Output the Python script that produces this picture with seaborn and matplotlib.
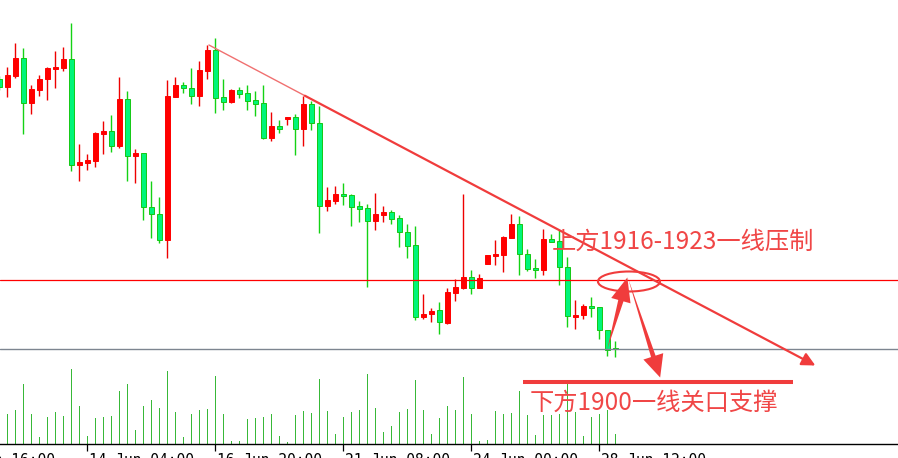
import numpy as np
import pandas as pd
import seaborn as sns
import matplotlib.pyplot as plt
from matplotlib.patches import Ellipse, FancyArrowPatch, ArrowStyle

# gold 4H candles, oldest first (red = up, green = down)
opens = [1960.1, 1958.5, 1960.7, 1964.2, 1955.3, 1957.9, 1960.1, 1962.0, 1962.3, 1963.9,
         1942.9, 1943.3, 1943.7, 1949.1, 1949.6, 1946.7, 1956.0, 1944.7, 1945.2, 1934.5,
         1933.1, 1927.9, 1956.5, 1958.8, 1958.3, 1956.7, 1961.7, 1965.8, 1956.4, 1955.5,
         1957.8, 1957.2, 1955.8, 1955.2, 1948.3, 1950.6, 1952.1, 1952.4, 1950.1, 1955.0,
         1951.3, 1934.7, 1935.7, 1937.0, 1936.8, 1934.6, 1934.2, 1931.7, 1932.9, 1933.5,
         1932.2, 1929.4, 1926.7, 1912.5, 1913.1, 1913.8, 1911.3, 1917.3, 1918.2, 1920.4,
         1918.3, 1923.1, 1924.7, 1924.9, 1928.3, 1931.1, 1925.1, 1922.2, 1921.9, 1927.9,
         1927.5, 1922.4, 1912.5, 1912.8, 1914.5, 1914.4, 1909.9, 1906.1]
highs = [1960.6, 1962.4, 1967.2, 1966.2, 1958.8, 1960.8, 1962.5, 1965.6, 1966.4, 1971.2,
         1947.0, 1945.0, 1949.4, 1951.6, 1952.8, 1960.4, 1957.7, 1946.0, 1945.2, 1939.6,
         1936.4, 1959.8, 1960.4, 1959.5, 1962.2, 1963.6, 1966.8, 1968.2, 1960.0, 1958.1,
         1958.4, 1958.8, 1957.6, 1958.8, 1953.4, 1951.8, 1952.4, 1953.1, 1956.7, 1955.7,
         1954.6, 1938.4, 1938.6, 1939.3, 1937.0, 1935.6, 1935.0, 1937.2, 1934.7, 1933.9,
         1932.8, 1931.1, 1930.6, 1917.0, 1914.2, 1915.4, 1918.2, 1920.1, 1937.0, 1921.8,
         1921.0, 1924.8, 1927.9, 1928.7, 1933.0, 1932.6, 1926.0, 1924.1, 1930.0, 1929.1,
         1929.8, 1924.5, 1915.8, 1915.0, 1916.4, 1914.4, 1909.9, 1907.7]
lows = [1957.8, 1956.5, 1960.3, 1949.1, 1953.1, 1956.7, 1955.9, 1958.3, 1961.7, 1941.7,
        1939.7, 1941.9, 1942.5, 1945.1, 1945.5, 1946.3, 1939.7, 1939.3, 1931.9, 1928.2,
        1927.3, 1924.3, 1956.5, 1957.3, 1955.1, 1954.7, 1960.1, 1953.3, 1953.9, 1955.3,
        1956.3, 1953.9, 1952.7, 1948.1, 1947.7, 1949.3, 1950.9, 1944.9, 1946.6, 1949.8,
        1929.3, 1933.7, 1935.1, 1934.9, 1930.7, 1931.5, 1918.5, 1929.8, 1931.5, 1931.1,
        1926.5, 1924.3, 1911.9, 1912.1, 1911.5, 1909.1, 1911.1, 1915.7, 1918.0, 1917.1,
        1918.3, 1923.1, 1922.8, 1921.5, 1928.3, 1920.9, 1921.7, 1920.3, 1920.9, 1927.4,
        1918.9, 1910.5, 1910.1, 1912.1, 1912.5, 1908.1, 1904.7, 1904.5]
closes = [1958.5, 1960.8, 1964.2, 1955.3, 1958.1, 1960.1, 1962.2, 1962.4, 1963.9, 1942.9,
          1943.4, 1943.8, 1949.2, 1949.6, 1946.7, 1956.0, 1944.7, 1945.2, 1934.5, 1933.1,
          1927.9, 1956.6, 1958.8, 1958.3, 1956.7, 1961.8, 1965.8, 1956.3, 1955.5, 1957.8,
          1957.1, 1955.7, 1955.1, 1948.3, 1950.6, 1950.1, 1952.4, 1950.1, 1955.0, 1951.3,
          1934.7, 1935.8, 1937.0, 1936.7, 1934.5, 1934.1, 1931.7, 1933.1, 1933.5, 1932.1,
          1929.5, 1926.7, 1912.5, 1913.0, 1913.6, 1911.5, 1917.4, 1918.4, 1920.4, 1918.3,
          1920.3, 1924.8, 1925.0, 1928.4, 1931.1, 1925.1, 1922.1, 1921.9, 1927.9, 1927.5,
          1922.5, 1912.7, 1912.8, 1914.6, 1914.3, 1909.9, 1905.9, 1906.0]
volumes = [2800, 3030, 3400, 6000, 3030, 700, 2730, 3200, 2830, 7530,
           3830, 800, 2630, 2730, 2830, 5330, 6000, 1400, 3830, 4430,
           3630, 7330, 3230, 730, 3030, 3430, 3530, 6830, 3030, 330,
           330, 2530, 2630, 2730, 3030, 830, 200, 2930, 3330, 3100,
           6530, 3300, 1030, 2730, 3200, 3400, 7030, 3600, 1230, 1830,
           3200, 3500, 6430, 3400, 1030, 2630, 3830, 3400, 6730, 3000,
           300, 430, 3300, 3000, 3100, 5330, 2930, 930, 2930, 2930,
           3030, 6070, 3200, 830, 2730, 3000, 3400, 1030]

tick_pos = [-6.3, 11, 27, 43, 59, 75]
tick_labels = ["13 Jun 16:00", "14 Jun 04:00", "16 Jun 20:00", "21 Jun 08:00",
               "24 Jun 00:00", "28 Jun 12:00"]

resist_level = 1919.8
last_price = 1906.0
trend_x = [26.2, 38.2, 102.0]
trend_y = [1966.8, 1956.65, 1902.7]
ring_center = (78.7, 1919.5)
ring_size = (7.75, 4.0)
up_arrow = [(76.0, 1906.0), (78.5, 1920.3)]
down_arrow = [(78.6, 1920.1), (82.6, 1900.3)]
support_x = [65.5, 99.2]
support_y = 1899.5
text_up = (69.05, 1927.4, "上方1916-1923一线压制")
text_down = (66.33, 1895.2, "下方1900一线关口支撑")

sns.set_theme(style="white")
plt.rcParams['font.family'] = ['Noto Sans CJK SC', 'DejaVu Sans']

df = pd.DataFrame({"o": opens, "h": highs, "l": lows, "c": closes, "vol": volumes})
df["idx"] = np.arange(len(df))
df["up"] = df["c"] >= df["o"]

xmin, xmax = 0.084, 112.33
red = "#ff0000"
anno = "#f03c3c"

fig = plt.figure(figsize=(8.98, 4.58), dpi=100)
fig.patch.set_facecolor("white")

# volume panel
ax_vol = fig.add_axes([0, 14 / 458, 1, 100 / 458])
sns.barplot(data=df, x="idx", y="vol", native_scale=True, width=0.2, color="#38b838",
            saturation=1, linewidth=0, errorbar=None, ax=ax_vol)
ax_vol.set_ylim(0, 10000)
ax_vol.set_xlim(xmin, xmax)
ax_vol.set_facecolor("white")
for s in ["left", "right", "top"]:
    ax_vol.spines[s].set_visible(False)
ax_vol.spines["bottom"].set_color("black")
ax_vol.spines["bottom"].set_linewidth(1.0)
ax_vol.set_yticks([])
ax_vol.set_xticks(tick_pos[1:])
ax_vol.set_xticklabels([""] * (len(tick_pos) - 1))
ax_vol.tick_params(axis="x", direction="out", length=5, width=0.9, color="black", bottom=True)
ax_vol.set_xlabel("")
ax_vol.set_ylabel("")
for p, lab in zip(tick_pos, tick_labels):
    ax_vol.annotate(lab, xy=(p, 0), xycoords=("data", "axes fraction"), xytext=(1, -6.5),
                    textcoords="offset points", ha="left", va="top", fontsize=10.5,
                    family="DejaVu Sans Mono", color="black", annotation_clip=False)

# price panel
ax = fig.add_axes([0, 0, 1, 1])
ax.set_facecolor("none")
ax.set_xlim(xmin, xmax)
ax.set_ylim(1884.2, 1975.8)
ax.axis("off")

wick_col = np.where(df["up"], "#ee0000", "#14d214")
ax.vlines(df["idx"], df["l"], df["h"], colors=wick_col, lw=1.0, zorder=2)
body_lo = np.minimum(df["o"], df["c"])
body_h = np.maximum((df["c"] - df["o"]).abs(), 0.3)
ax.bar(df["idx"], body_h, bottom=body_lo, width=0.62,
       color=np.where(df["up"], red, "#00f57a"),
       edgecolor=np.where(df["up"], red, "#14c814"), linewidth=0.7, zorder=3)

ax.axhline(resist_level, color=red, lw=0.9, zorder=4)
ax.axhline(last_price, color="#7d8590", lw=1.0, zorder=4)

# trend line: thin part, then the drawn arrow
ax.plot(trend_x[:2], trend_y[:2], color="#f07070", lw=1.0, zorder=5)
ax.add_patch(FancyArrowPatch((trend_x[1], trend_y[1]), (trend_x[2], trend_y[2]),
                             arrowstyle="-|>", mutation_scale=20, color=anno, lw=1.6,
                             shrinkA=0, shrinkB=0, zorder=5))

ax.add_patch(Ellipse(ring_center, ring_size[0], ring_size[1], fill=False, ec=anno, lw=1.5, zorder=6))


def fat_arrow(start, end, frac, shaft_w, head_w, head_l):
    ax.add_patch(FancyArrowPatch(start, end,
                                 arrowstyle=ArrowStyle.Simple(head_length=head_l, head_width=head_w,
                                                              tail_width=0.01),
                                 mutation_scale=1, color=anno, lw=0, shrinkA=0, shrinkB=0, zorder=6))
    neck = (end[0] + (start[0] - end[0]) * frac, end[1] + (start[1] - end[1]) * frac)
    ax.add_patch(FancyArrowPatch(neck, start,
                                 arrowstyle=ArrowStyle.Wedge(tail_width=shaft_w, shrink_factor=0.5),
                                 mutation_scale=1, color=anno, lw=0, shrinkA=0, shrinkB=0, zorder=6))


fat_arrow(up_arrow[0], up_arrow[1], 0.25, 4.3, 14.4, 17.3)
fat_arrow(down_arrow[0], down_arrow[1], 0.17, 3.6, 15.0, 16.0)

ax.plot(support_x, [support_y, support_y], color=anno, lw=2.9, solid_capstyle="butt", zorder=6)

ax.text(text_up[0], text_up[1], text_up[2], fontsize=17.5, color="#f04646",
        ha="left", va="center", zorder=7)
ax.text(text_down[0], text_down[1], text_down[2], fontsize=17.5, color="#f04646",
        ha="left", va="center", zorder=7)

fig.savefig("out.png", dpi=100)
